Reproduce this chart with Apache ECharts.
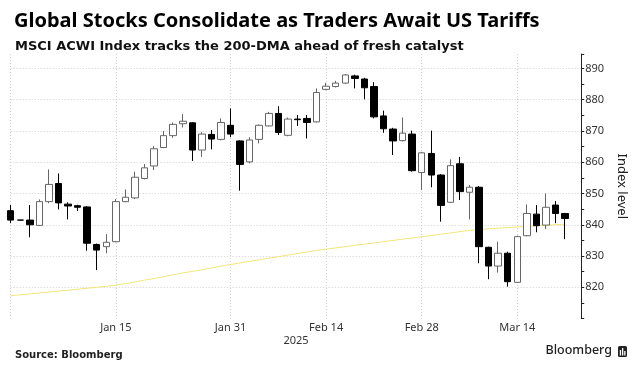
<!DOCTYPE html>
<html><head><meta charset="utf-8">
<script src="https://cdn.jsdelivr.net/npm/echarts@6/dist/echarts.min.js"></script>
<style>html,body{margin:0;padding:0;background:#fff}#c{width:636px;height:374px}</style>
</head><body><div id="c"></div>
<script>
const dates = ['Dec 31','Jan 1','Jan 2','Jan 3','Jan 6','Jan 7','Jan 8','Jan 9','Jan 10',
 'Jan 13','Jan 14','Jan 15','Jan 16','Jan 17','Jan 20','Jan 21','Jan 22','Jan 23','Jan 24',
 'Jan 27','Jan 28','Jan 29','Jan 30','Jan 31','Feb 3','Feb 4','Feb 5','Feb 6','Feb 7',
 'Feb 10','Feb 11','Feb 12','Feb 13','Feb 14','Feb 17','Feb 18','Feb 19','Feb 20','Feb 21',
 'Feb 24','Feb 25','Feb 26','Feb 27','Feb 28','Mar 3','Mar 4','Mar 5','Mar 6','Mar 7',
 'Mar 10','Mar 11','Mar 12','Mar 13','Mar 14','Mar 17','Mar 18','Mar 19','Mar 20','Mar 21'];
const openV  = [844.5,841.5,841.5,839.8,847.4,853.2,846.6,846.1,845.7,833.7,833.0,834.6,847.4,848.6,854.8,858.8,864.7,868.5,872.3,872.6,863.9,868.9,867.3,871.8,866.8,860.1,867.3,871.6,875.6,868.6,873.8,874.0,872.9,883.3,884.2,885.3,887.6,886.6,884.2,874.8,870.6,866.9,869.0,856.7,862.8,855.9,847.2,859.5,850.4,852.0,832.8,826.8,830.9,821.6,836.5,843.4,839.9,846.3,843.6];
const closeV = [841.5,841.5,840.0,847.4,852.9,847.0,846.0,845.6,834.1,831.9,834.4,847.4,848.8,855.2,858.2,864.3,868.5,872.1,873.1,863.9,869.0,867.4,872.7,869.0,859.3,867.1,871.8,875.6,869.5,873.8,873.6,872.7,882.3,884.3,885.3,887.9,886.8,883.8,874.5,870.7,866.8,869.3,857.3,863.0,855.9,846.2,858.9,850.6,852.0,833.0,826.8,830.9,821.8,836.2,843.6,839.7,845.6,843.6,842.0];
const lowV   = [840.5,841.5,836.0,839.6,846.9,844.9,841.7,844.4,831.7,825.5,830.9,834.4,847.2,848.2,854.5,857.5,864.5,867.8,871.1,860.4,861.7,864.1,867.0,868.0,850.9,859.6,866.0,871.4,868.7,868.3,871.6,867.6,872.7,883.0,883.9,885.0,883.6,880.1,874.0,869.4,862.3,866.6,857.0,851.1,852.0,841.0,847.0,847.9,841.7,827.7,822.6,824.7,820.2,821.4,836.3,837.6,838.6,840.5,835.4];
const highV  = [846.3,841.5,846.3,848.1,857.7,856.4,847.2,846.4,846.0,834.0,837.0,848.2,851.3,857.0,859.4,865.2,870.0,872.7,875.4,872.8,869.6,870.3,874.0,877.2,867.0,868.0,872.1,876.1,877.9,874.3,875.1,875.1,883.6,885.4,886.0,888.2,888.0,887.0,885.6,876.5,871.0,874.3,870.1,863.3,870.1,856.2,860.9,861.7,852.7,852.4,833.0,834.6,831.4,836.5,846.5,846.3,850.0,847.6,843.8];
const dma200 = [817.3,817.6,817.9,818.2,818.5,818.8,819.1,819.4,819.7,820.0,820.3,820.7,821.2,821.7,822.3,822.8,823.4,824.0,824.6,825.1,825.6,826.2,826.8,827.3,827.8,828.3,828.8,829.3,829.8,830.3,830.8,831.3,831.8,832.2,832.6,833.0,833.4,833.8,834.2,834.6,835.0,835.4,835.8,836.2,836.6,837.0,837.4,837.8,838.2,838.5,838.7,838.9,839.1,839.3,839.5,839.7,839.9,840.0,840.2];
const labelIdx = [11,23,33,43,53];
const gridIdx = [0,11,23,33,43,53];

const ohlc = openV.map((o,i)=>[o, closeV[i], lowV[i], highV[i]]);
const chart = echarts.init(document.getElementById('c'));
const lab = {color:'#333', fontSize:11, fontFamily:'Noto Sans'};
const dotted = {type:[1,2], color:'#cfcfcf', width:1};
chart.setOption({
  animation:false,
  backgroundColor:'#fff',
  title:[
    {text:'Global Stocks Consolidate as Traders Await US Tariffs', left:9, top:6,
     textStyle:{fontSize:20, fontWeight:'bold', color:'#000', fontFamily:'Noto Sans'}},
    {text:'MSCI ACWI Index tracks the 200-DMA ahead of fresh catalyst', left:10, top:35,
     textStyle:{fontSize:13, fontWeight:'bold', color:'#111', fontFamily:'DejaVu Sans'}},
    {text:'Source: Bloomberg', left:10, top:345,
     textStyle:{fontSize:10, fontWeight:'bold', color:'#222', fontFamily:'DejaVu Sans'}}
  ],
  grid:[
    {left:10.7, right:47.7, top:54, bottom:55.4},
    {left:10.7, right:70.9, top:54, bottom:55.4}
  ],
  xAxis:[
    {gridIndex:0, type:'value', min:0, max:1, axisLine:{show:false, onZero:false}, axisTick:{show:false},
     axisLabel:{show:false}, splitLine:{show:false}, name:'2025', nameLocation:'middle', nameGap:17,
     nameTextStyle:lab},
    {gridIndex:1, type:'category', data:dates, boundaryGap:false,
     axisLine:{show:false, onZero:false}, axisTick:{show:false},
     axisLabel:Object.assign({interval:(i)=>labelIdx.includes(i), margin:4}, lab),
     splitLine:{show:true, interval:(i)=>gridIdx.includes(i), lineStyle:dotted}}
  ],
  yAxis:[
    {gridIndex:0, type:'value', position:'right', min:810, max:894.6, interval:10,
     axisLine:{show:true, onZero:false, lineStyle:{color:'#222', width:1}},
     axisTick:{show:true, length:3, lineStyle:{color:'#222'}},
     minorTick:{show:true, splitNumber:2, length:3, lineStyle:{color:'#222'}},
     axisLabel:Object.assign({showMinLabel:false, showMaxLabel:false, margin:4}, lab),
     splitLine:{show:true, showMinLine:false, showMaxLine:false, lineStyle:dotted},
     name:'Index level', nameLocation:'middle', nameRotate:-90, nameGap:25,
     nameTextStyle:{color:'#222', fontSize:13, fontFamily:'Noto Sans'}},
    {gridIndex:1, type:'value', min:810, max:894.6, show:false, axisLine:{show:false, onZero:false}}
  ],
  series:[
    {type:'line', xAxisIndex:1, yAxisIndex:1, data:dma200, showSymbol:false, symbol:'none',
     lineStyle:{color:'#f2e67a', width:1}, silent:true, z:1},
    {type:'candlestick', xAxisIndex:1, yAxisIndex:1, data:ohlc, barWidth:7, clip:true, z:3,
     itemStyle:{color:'#fff', color0:'#000', borderColor:'#666', borderColor0:'#000',
       borderColorDoji:'#000', borderWidth:1}}
  ],
  graphic:[
    {type:'text', right:24, top:344, style:{text:'Bloomberg', fontSize:12.5, fontWeight:500,
      fill:'#222', fontFamily:'Noto Sans'}},
    {type:'group', left:618, top:346, children:[
      {type:'rect', shape:{x:0,y:0,width:9,height:11,r:1.5}, style:{fill:'#222'}},
      {type:'rect', shape:{x:1.8,y:4,width:1.3,height:5.5}, style:{fill:'#fff'}},
      {type:'rect', shape:{x:4,y:2,width:1.3,height:7.5}, style:{fill:'#fff'}},
      {type:'rect', shape:{x:6.2,y:5,width:1.3,height:4.5}, style:{fill:'#fff'}}
    ]}
  ]
});
</script></body></html>
